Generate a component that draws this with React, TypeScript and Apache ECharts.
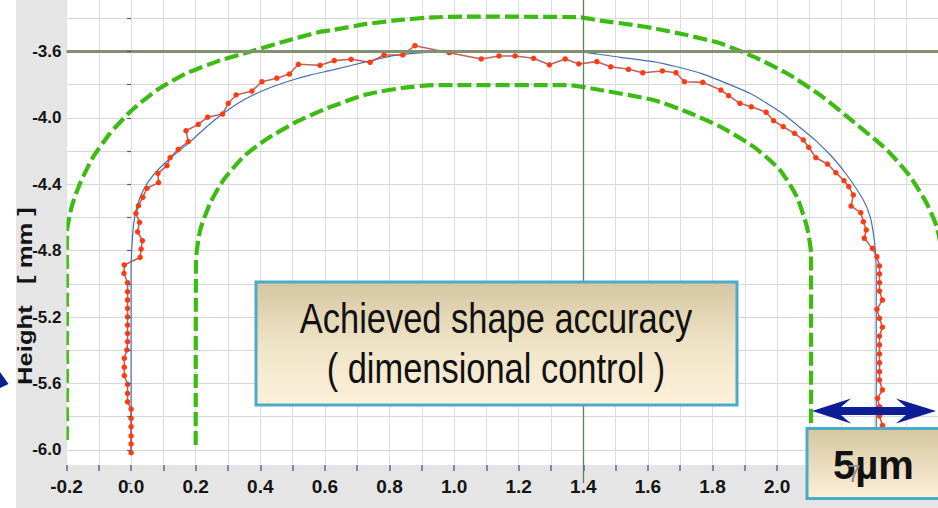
import React, { useEffect, useRef } from "react";
import * as echarts from "echarts";

// ---- data ----
const measuredX = [
  0.0, 0.0, 0.0, 0.0, 0.0, 0.0, -0.011, -0.011, -0.011, -0.021, -0.021, -0.021, -0.013, -0.011, -0.011, -0.011,
  -0.011, -0.011, -0.011, -0.011, -0.011, -0.022, -0.021,
  0.028, 0.031, 0.035, 0.02, 0.026, 0.015, 0.023, 0.036, 0.049, 0.085, 0.083, 0.111, 0.121, 0.146, 0.177, 0.17,
  0.208, 0.237, 0.283, 0.301, 0.325, 0.374, 0.405, 0.451, 0.49, 0.518, 0.585, 0.629, 0.681, 0.74, 0.783, 0.841,
  0.879, 0.985, 1.084, 1.139, 1.189, 1.246, 1.295, 1.344, 1.386, 1.442, 1.485, 1.54, 1.584, 1.645, 1.687, 1.713,
  1.77, 1.826, 1.85, 1.885, 1.92, 1.966, 1.989, 2.019, 2.054, 2.081, 2.098, 2.12, 2.156, 2.182, 2.207, 2.222,
  2.236, 2.229, 2.259, 2.267, 2.276, 2.27, 2.295, 2.309, 2.317, 2.317, 2.317, 2.317, 2.326, 2.309, 2.317, 2.326,
  2.317, 2.317, 2.317, 2.317, 2.317, 2.317, 2.326, 2.311, 2.317, 2.317, 2.326, 2.317, 2.317, 2.317,
];
const measuredY = [
  -6.017, -5.964, -5.916, -5.86, -5.81, -5.754, -5.71, -5.659, -5.605, -5.553, -5.502, -5.448, -5.398, -5.348,
  -5.298, -5.248, -5.198, -5.147, -5.097, -5.047, -4.993, -4.936, -4.886,
  -4.84, -4.79, -4.74, -4.686, -4.629, -4.575, -4.529, -4.478, -4.424, -4.39, -4.334, -4.288, -4.24, -4.189,
  -4.143, -4.077, -4.039, -3.996, -3.977, -3.912, -3.862, -3.838, -3.782, -3.761, -3.736, -3.677, -3.683,
  -3.655, -3.647, -3.665, -3.621, -3.621, -3.565, -3.607, -3.645, -3.627, -3.627, -3.641, -3.68, -3.645,
  -3.675, -3.661, -3.692, -3.707, -3.728, -3.717, -3.728, -3.782, -3.786, -3.832, -3.866, -3.912, -3.933,
  -3.966, -4.017, -4.053, -4.093, -4.133, -4.177, -4.24, -4.278, -4.33, -4.378, -4.414, -4.464, -4.531,
  -4.571, -4.625, -4.675, -4.725, -4.786, -4.836, -4.892, -4.94, -4.993, -5.043, -5.097, -5.153, -5.207,
  -5.261, -5.314, -5.368, -5.422, -5.475, -5.529, -5.579, -5.639, -5.689, -5.74, -5.796, -5.852, -5.905,
  -5.955, -6.005,
];

const nominalX = [
  0, 0, 0.002, 0.007, 0.018, 0.038, 0.069, 0.115, 0.183, 0.234, 0.286, 0.348, 0.42, 0.492, 0.554, 0.625, 0.73,
  0.811, 0.873, 0.915, 0.988, 1.368, 1.442, 1.514, 1.616, 1.689, 1.771, 1.844, 1.916, 1.968, 2.019, 2.071,
  2.123, 2.174, 2.216, 2.267, 2.288, 2.298, 2.305, 2.307, 2.307,
];
const nominalY = [
  -6.02, -4.916, -4.796, -4.655, -4.535, -4.434, -4.344, -4.254, -4.143, -4.053, -3.972, -3.892, -3.826,
  -3.776, -3.742, -3.711, -3.661, -3.625, -3.611, -3.605, -3.6, -3.6, -3.615, -3.635, -3.661, -3.692, -3.736,
  -3.792, -3.852, -3.912, -3.977, -4.058, -4.143, -4.243, -4.344, -4.495, -4.595, -4.695, -4.816, -4.936, -6.02,
];
const topSegX = [0.92, 1.37];
const topSegY = [-3.6, -3.6];

const outerX = [
  -0.199, -0.199, -0.184, -0.158, -0.117, -0.065, -0.003, 0.08, 0.172, 0.265, 0.368, 0.472, 0.585, 0.626, 0.73,
  0.833, 0.936, 1.039, 1.39, 1.452, 1.555, 1.617, 1.72, 1.824, 1.927, 2.03, 2.133, 2.236, 2.34, 2.412, 2.463,
  2.494, 2.51,
];
const outerY = [
  -5.94, -4.695, -4.535, -4.394, -4.234, -4.093, -3.963, -3.832, -3.731, -3.661, -3.601, -3.541, -3.481, -3.47,
  -3.434, -3.41, -3.394, -3.39, -3.394, -3.414, -3.44, -3.46, -3.501, -3.551, -3.631, -3.731, -3.862, -4.023,
  -4.193, -4.354, -4.514, -4.655, -4.8,
];
const innerX = [
  0.2, 0.201, 0.214, 0.245, 0.286, 0.348, 0.42, 0.513, 0.606, 0.73, 0.833, 0.936, 1.349, 1.452, 1.617, 1.72,
  1.824, 1.927, 2.009, 2.061, 2.092, 2.105, 2.105,
];
const innerY = [
  -5.97, -4.856, -4.675, -4.513, -4.374, -4.234, -4.127, -4.023, -3.942, -3.858, -3.822, -3.802, -3.802, -3.832,
  -3.892, -3.963, -4.053, -4.173, -4.314, -4.475, -4.655, -4.816, -5.97,
];

const crossY = -3.6;
const crossX = 1.4;

const annotationLines = ["Achieved shape accuracy", "( dimensional control )"];
const yAxisTitle = "Height   [ mm ]";
const scaleText = "5µm";

const pairs = (xs: number[], ys: number[]) => xs.map((x, i) => [x, ys[i]]);

const SANS = "'Liberation Sans', Arial, sans-serif";

export default function App() {
  const ref = useRef<HTMLDivElement>(null);

  useEffect(() => {
    document.body.style.margin = "0";
    if (!ref.current) return;
    const chart = echarts.init(ref.current, null, { renderer: "svg" });

    const boxFill = new echarts.graphic.LinearGradient(0, 0, 0, 1, [
      { offset: 0, color: "#d5c6a0" },
      { offset: 0.5, color: "#efe3c6" },
      { offset: 1, color: "#fdf1db" },
    ]);
    const boxFill2 = new echarts.graphic.LinearGradient(0, 0, 0, 1, [
      { offset: 0, color: "#d5c6a0" },
      { offset: 1, color: "#fcf0d8" },
    ]);

    const greenStyle = { color: "#3cbb12", width: 4.2, type: [14, 5] as any };

    chart.setOption({
      animation: false,
      backgroundColor: "#ffffff",
      grid: {
        left: 66.5,
        top: -14.9,
        width: 872.1,
        height: 498,
        containLabel: false,
        outerBoundsMode: "none",
      },
      xAxis: [
        {
          type: "value",
          min: -0.2,
          max: 2.5,
          interval: 0.1,
          position: "bottom",
          z: 0,
          axisLine: { show: false },
          axisTick: { show: false },
          axisLabel: { show: false },
          splitLine: { show: true, lineStyle: { color: "#dedede", width: 1 } },
        },
        {
          type: "value",
          min: -0.2,
          max: 2.5,
          interval: 0.1,
          position: "bottom",
          offset: -18.1,
          z: 5,
          axisLine: { show: false },
          axisTick: { show: true, length: 6, lineStyle: { color: "#5a6a9c", width: 1.5 } },
          axisLabel: {
            show: true,
            margin: 12,
            fontSize: 19,
            fontWeight: "bold",
            fontFamily: SANS,
            color: "#141414",
            formatter: (v: number) => {
              const k = Math.round(v * 10);
              // 2.2 and 2.4 lie under the "5µm" box in the reference
              return k % 2 === 0 && k <= 20 ? (k / 10).toFixed(1) : "";
            },
          },
          splitLine: { show: false },
        },
      ],
      yAxis: [
        {
          type: "value",
          min: -6.2,
          max: -3.2,
          interval: 0.2,
          position: "left",
          z: 0,
          axisLine: { show: false },
          axisTick: { show: false },
          axisLabel: { show: false },
          splitLine: { show: true, lineStyle: { color: "#d6d6d6", width: 1.2 } },
        },
        {
          type: "value",
          min: -6.2,
          max: -3.2,
          interval: 0.2,
          position: "left",
          z: 5,
          axisLine: { show: false },
          axisTick: { show: true, length: 4, lineStyle: { color: "#555a70", width: 1.2 } },
          axisLabel: {
            show: true,
            margin: 5,
            fontSize: 17,
            fontWeight: "bold",
            fontFamily: SANS,
            color: "#141414",
            formatter: (v: number) => {
              const k = Math.round(v * 10);
              return k % 4 === 0 && k <= -36 && k >= -60 ? (k / 10).toFixed(1) : "";
            },
          },
          splitLine: { show: false },
        },
      ],
      series: [
        {
          name: "nominal",
          type: "line",
          xAxisIndex: 0,
          yAxisIndex: 0,
          z: 2,
          data: pairs(nominalX, nominalY),
          showSymbol: false,
          smooth: 0.2,
          lineStyle: { color: "#4470b0", width: 1.2 },
          markLine: {
            silent: true,
            symbol: ["none", "none"],
            label: { show: false },
            data: [
              { yAxis: crossY, lineStyle: { color: "#829070", width: 3, type: "solid" } },
              { xAxis: crossX, lineStyle: { color: "#6c7b58", width: 1.3, type: "solid" } },
            ],
          },
        },
        {
          name: "nominalTop",
          type: "line",
          z: 2.5,
          data: pairs(topSegX, topSegY),
          showSymbol: false,
          lineStyle: { color: "#1f3d6e", width: 3 },
        },
        {
          name: "outer",
          type: "line",
          z: 3,
          data: pairs(outerX, outerY),
          showSymbol: false,
          smooth: 0.2,
          lineStyle: greenStyle,
        },
        {
          name: "inner",
          type: "line",
          z: 3,
          data: pairs(innerX, innerY),
          showSymbol: false,
          smooth: 0.2,
          lineStyle: greenStyle,
        },
        {
          name: "measured",
          type: "line",
          z: 4,
          data: pairs(measuredX, measuredY),
          showSymbol: true,
          symbol: "circle",
          symbolSize: 5.5,
          itemStyle: { color: "#ff3c10" },
          lineStyle: { color: "#b9504e", width: 1.6, opacity: 0.9 },
        },
      ],
      graphic: [
        { type: "rect", z: 4.5, silent: true, shape: { x: 16, y: 0, width: 50.5, height: 508 }, style: { fill: "#e5e5e5" } },
        { type: "rect", z: 4.5, silent: true, shape: { x: 16, y: 465, width: 922, height: 43 }, style: { fill: "#e5e5e5" } },
        {
          type: "text",
          z: 11,
          x: 25,
          y: 296,
          rotation: Math.PI / 2,
          scaleX: 1.28,
          style: {
            text: yAxisTitle,
            fontSize: 20,
            fontWeight: "bold",
            fontFamily: SANS,
            fill: "#141414",
            align: "center",
            verticalAlign: "middle",
          },
        },
        { type: "polygon", z: 11, shape: { points: [[0, 372], [8.5, 384], [0, 388]] }, style: { fill: "#0a1f8f" } },
        {
          type: "rect",
          z: 10,
          shape: { x: 256, y: 282, width: 481, height: 123 },
          style: { fill: boxFill, stroke: "#4aabc9", lineWidth: 3 },
        },
        {
          type: "text",
          z: 11,
          x: 496,
          y: 318,
          scaleX: 0.82,
          style: { text: annotationLines[0], fontSize: 42, fontFamily: SANS, fill: "#111", align: "center", verticalAlign: "middle" },
        },
        {
          type: "text",
          z: 11,
          x: 496,
          y: 368,
          scaleX: 0.82,
          style: { text: annotationLines[1], fontSize: 42, fontFamily: SANS, fill: "#111", align: "center", verticalAlign: "middle" },
        },
        {
          type: "polygon",
          z: 11,
          shape: {
            points: [
              [812, 411], [851, 398.5], [841, 407], [906, 407], [896, 398.5], [936, 411],
              [896, 423.5], [906, 415], [841, 415], [851, 423.5],
            ],
          },
          style: { fill: "#0d1d96" },
        },
        {
          type: "rect",
          z: 10,
          shape: { x: 807, y: 428.5, width: 140, height: 70 },
          style: { fill: boxFill2, stroke: "#4aabc9", lineWidth: 3 },
        },
        {
          type: "text",
          z: 11,
          x: 833,
          y: 465,
          style: { text: scaleText, fontSize: 40, fontWeight: "bold", fontFamily: SANS, fill: "#111", align: "left", verticalAlign: "middle" },
        },
        {
          type: "text",
          z: 12,
          x: 854,
          y: 473,
          style: { text: "7", fontSize: 24, fontFamily: SANS, fill: "#8c8c8c", align: "center", verticalAlign: "middle" },
        },
      ],
    });

    return () => chart.dispose();
  }, []);

  return <div ref={ref} style={{ width: 938, height: 508 }} />;
}
